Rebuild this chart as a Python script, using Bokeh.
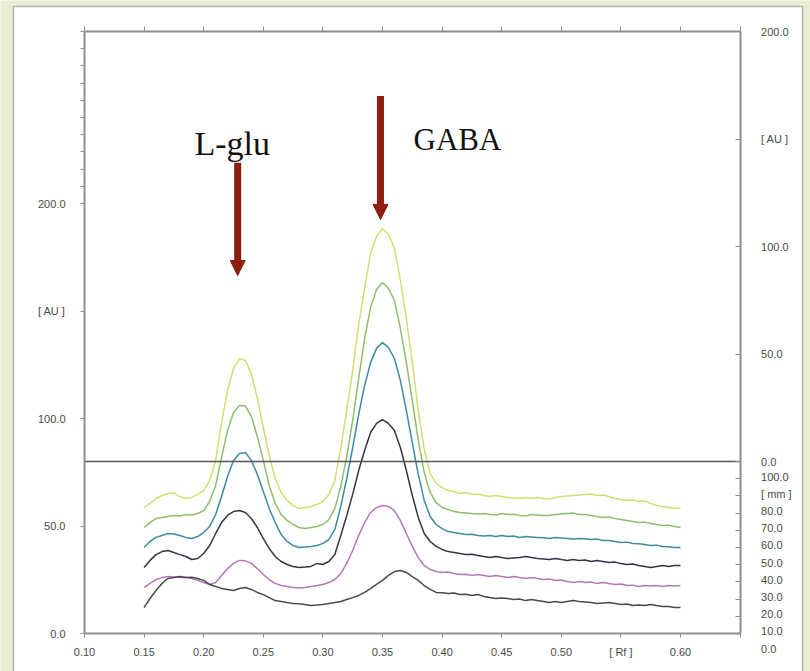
from bokeh.plotting import figure
from bokeh.models import (LinearAxis, FixedTicker, Range1d, Arrow, NormalHead,
                          Label, BoxAnnotation)
from bokeh.embed import file_html
from bokeh.resources import INLINE

# ---------------- data ----------------
rf = [round(0.150 + 0.005 * i, 3) for i in range(91)]

track_1 = [58.6, 60.5, 62.8, 64.2, 65.1, 65.3, 63.7, 62.8, 63.3, 64.7,
           66.5, 71.2, 80.5, 98.1, 113.0, 123.3, 127.9, 127.0, 120.9, 109.3,
           95.8, 82.8, 72.1, 65.6, 61.9, 59.5, 58.1, 58.6, 59.1, 60.0,
           61.4, 64.7, 71.2, 86.0, 103.7, 122.3, 143.3, 160.9, 176.7, 184.7,
           188.4, 185.6, 179.1, 164.2, 146.5, 126.0, 103.7, 85.6, 74.4, 69.8,
           67.9, 66.5, 66.0, 65.1, 65.6, 64.7, 64.9, 64.2, 63.7, 64.2,
           63.7, 63.3, 63.0, 62.8, 63.3, 62.8, 63.3, 62.8, 62.6, 63.3,
           63.7, 63.9, 64.2, 64.4, 64.7, 64.9, 64.2, 64.4, 63.7, 62.8,
           62.3, 61.9, 62.1, 61.4, 61.6, 60.5, 59.5, 59.1, 58.6, 58.1,
           58.3]
track_2 = [49.3, 51.6, 53.5, 54.0, 54.4, 54.9, 54.7, 55.3, 55.1, 55.8,
           57.2, 61.4, 68.8, 81.9, 94.4, 102.8, 106.0, 105.8, 100.9, 91.6,
           80.5, 68.8, 60.5, 55.3, 52.6, 50.7, 49.3, 48.8, 49.3, 49.8,
           50.7, 53.0, 58.1, 68.4, 82.3, 99.1, 118.6, 137.2, 151.6, 160.0,
           163.3, 160.5, 154.9, 141.9, 126.0, 108.4, 89.8, 74.9, 65.6, 60.9,
           58.6, 57.7, 56.7, 56.3, 56.1, 55.8, 55.6, 55.8, 55.3, 55.1,
           55.8, 55.3, 55.5, 54.9, 54.7, 55.3, 55.1, 54.9, 54.9, 55.3,
           55.6, 55.8, 56.0, 55.3, 55.3, 54.9, 54.4, 54.0, 54.2, 53.5,
           53.0, 52.6, 52.1, 51.6, 51.8, 51.2, 50.7, 50.2, 50.4, 49.8,
           49.3]
track_3 = [40.0, 42.8, 44.7, 45.6, 46.5, 46.3, 45.6, 44.7, 44.2, 45.1,
           47.0, 49.8, 55.3, 63.7, 73.0, 80.5, 83.7, 84.2, 80.5, 74.0,
           66.0, 58.1, 51.6, 46.0, 42.8, 40.9, 40.0, 40.2, 40.5, 40.9,
           41.9, 43.7, 48.4, 59.1, 72.1, 86.5, 101.9, 115.3, 126.0, 132.6,
           135.3, 133.0, 127.9, 117.7, 103.7, 88.8, 74.0, 61.9, 54.4, 50.7,
           48.8, 47.4, 47.0, 46.5, 46.0, 46.2, 45.6, 45.4, 45.6, 45.1,
           45.6, 45.1, 45.3, 44.7, 45.1, 44.9, 44.7, 44.5, 44.2, 44.7,
           44.4, 44.2, 44.0, 44.2, 44.1, 43.7, 43.9, 43.3, 43.3, 42.8,
           42.3, 42.5, 41.9, 41.7, 41.4, 40.9, 41.1, 40.5, 40.3, 40.0,
           40.0]
track_4 = [30.7, 34.0, 36.7, 38.1, 38.6, 37.7, 36.7, 35.8, 34.4, 34.9,
           37.2, 40.9, 46.5, 51.6, 54.9, 56.7, 57.2, 56.3, 53.5, 49.3,
           44.2, 39.5, 35.8, 33.5, 32.1, 31.2, 30.7, 30.9, 31.2, 32.6,
           32.1, 33.5, 36.7, 45.6, 54.9, 64.7, 75.8, 85.1, 93.5, 97.7,
           99.5, 97.7, 94.4, 86.5, 75.8, 64.2, 54.0, 46.5, 42.8, 40.5,
           39.1, 38.1, 37.7, 37.2, 36.7, 36.9, 36.3, 35.8, 35.3, 35.8,
           35.3, 34.9, 35.1, 35.3, 35.8, 35.3, 34.9, 34.7, 34.4, 34.9,
           34.4, 34.0, 34.4, 34.0, 34.2, 33.5, 34.0, 33.5, 33.0, 33.2,
           32.6, 32.1, 32.3, 31.6, 31.2, 30.7, 31.2, 31.6, 31.2, 31.6,
           31.6]
track_5 = [21.4, 23.3, 25.1, 26.0, 26.5, 26.3, 26.0, 26.2, 25.6, 24.7,
           23.7, 22.8, 23.7, 27.0, 30.2, 32.6, 34.0, 33.8, 32.6, 30.2,
           27.4, 25.1, 23.3, 22.3, 21.9, 21.4, 21.2, 21.4, 21.9, 22.3,
           22.8, 23.7, 25.1, 27.9, 32.6, 38.6, 45.6, 51.6, 56.3, 58.6,
           59.5, 59.1, 57.2, 52.6, 46.5, 40.5, 35.3, 31.6, 29.8, 28.8,
           28.4, 28.6, 27.9, 27.4, 27.6, 27.0, 27.4, 27.0, 26.5, 27.0,
           26.5, 26.0, 26.5, 26.0, 25.6, 26.0, 25.6, 25.1, 25.3, 24.7,
           24.9, 24.2, 23.7, 24.2, 23.7, 23.9, 23.3, 23.7, 23.3, 22.8,
           23.0, 22.3, 22.5, 21.9, 22.3, 22.1, 22.3, 21.9, 22.3, 22.1,
           22.3]
track_6 = [12.1, 16.3, 20.0, 23.3, 25.6, 26.0, 26.5, 26.0, 26.2, 25.6,
           24.7, 22.8, 21.9, 20.9, 20.5, 20.0, 20.9, 21.4, 20.5, 19.1,
           18.1, 16.7, 15.3, 14.9, 14.4, 14.0, 13.8, 13.5, 13.0, 13.2,
           13.5, 14.0, 14.4, 14.9, 15.8, 16.7, 17.7, 19.1, 20.9, 22.8,
           24.7, 27.0, 28.8, 29.3, 28.4, 26.5, 24.7, 22.3, 20.5, 19.1,
           18.9, 18.6, 18.8, 18.1, 18.3, 17.7, 18.1, 17.2, 16.7, 16.3,
           16.5, 16.3, 15.8, 16.0, 15.3, 15.8, 15.3, 14.9, 14.4, 14.9,
           14.4, 14.9, 15.3, 14.9, 14.7, 14.4, 14.0, 14.2, 14.4, 14.0,
           13.5, 13.7, 13.0, 13.2, 13.0, 13.5, 13.0, 12.6, 12.6, 12.1,
           12.1]
tracks = [track_1, track_2, track_3, track_4, track_5, track_6]
track_colors = ["#d2de72", "#8fbe6c", "#3f8c9c", "#3b3342", "#b577b9", "#4a4a4a"]

x_ticks = [0.1, 0.15, 0.2, 0.25, 0.3, 0.35, 0.4, 0.45, 0.5, 0.55, 0.6, 0.65]
x_tick_labels = ["0.10", "0.15", "0.20", "0.25", "0.30", "0.35", "0.40",
                 "0.45", "0.50", "[ Rf ]", "0.60", ""]

left_ticks = [0.0, 50.0, 100.0, 150.0, 200.0]
left_tick_labels = ["0.0", "50.0", "100.0", "[ AU ]", "200.0"]
left_minor_ticks = [208.0, 216.0, 224.0, 232.0, 240.0, 248.0, 256.0, 264.0, 272.0, 280.0]
left_top = 280.0

# right-hand scales: AU (upper part) and mm (lower part)
right_au_ticks = [0.0, 50.0, 100.0, 150.0, 200.0]
right_au_labels = ["0.0", "50.0", "100.0", "[ AU ]", "200.0"]
right_mm_ticks = [0.0, 10.0, 20.0, 30.0, 40.0, 50.0, 60.0, 70.0, 80.0, 90.0, 100.0]
right_mm_labels = ["0.0", "10.0", "20.0", "30.0", "40.0", "50.0", "60.0",
                   "70.0", "80.0", "[ mm ]", "100.0"]
right_au_zero = 80.0      # left-scale position of right AU 0 (= 100 mm)
mm_to_left = 0.8          # left-scale units per mm
mm_label_shift = -7.0     # mm labels sit a little below their ticks

peak_names = ["L-glu", "GABA"]

# ---------------- layout ----------------
W, H = 810, 671
AX_LEFT_PX, AX_BOTTOM_PX = 84, 633
XPX, YPX = 1192.0, 2.15          # pixels per Rf unit / per AU unit
x_lo, x_hi = x_ticks[0], x_ticks[-1]

AXIS_GRAY = "#8e8e8e"
TXT = "#4a4a4a"
FONT = "Liberation Sans"

p = figure(width=W, height=H, output_backend="svg", toolbar_location=None,
           x_range=Range1d(x_lo - AX_LEFT_PX / XPX, x_lo + (W - AX_LEFT_PX) / XPX),
           y_range=Range1d(-(H - AX_BOTTOM_PX) / YPX, AX_BOTTOM_PX / YPX),
           x_axis_type=None, y_axis_type=None, min_border=0)
p.grid.visible = False
p.outline_line_color = None
p.background_fill_color = "#e9eed2"
p.border_fill_color = "#e9eed2"

# slide panel: white with a thin black border
p.add_layout(BoxAnnotation(left=13, right=802, top=6, bottom=720,
                           left_units="canvas", right_units="canvas",
                           top_units="canvas", bottom_units="canvas",
                           fill_color="white", fill_alpha=1,
                           line_color="#1a1a1a", line_width=1.5, level="underlay"))


def style_axis(ax):
    ax.axis_line_color = AXIS_GRAY
    ax.axis_line_width = 2
    ax.major_tick_line_color = AXIS_GRAY
    ax.minor_tick_line_color = AXIS_GRAY
    ax.major_label_text_font = FONT
    ax.major_label_text_font_size = "11px"
    ax.major_label_text_color = TXT


xb = LinearAxis(ticker=FixedTicker(ticks=x_ticks), fixed_location=0.0, bounds=(x_lo, x_hi),
                major_label_overrides=dict(zip(x_ticks, x_tick_labels)))
style_axis(xb)
xb.major_tick_in = 0
xb.major_tick_out = 4
xb.major_label_standoff = 8
p.add_layout(xb, "below")

xt = LinearAxis(ticker=FixedTicker(ticks=x_ticks), fixed_location=left_top, bounds=(x_lo, x_hi))
style_axis(xt)
xt.major_tick_in = 0
xt.major_tick_out = 5
xt.major_label_text_color = None
p.add_layout(xt, "above")

yl = LinearAxis(ticker=FixedTicker(ticks=left_ticks, minor_ticks=left_minor_ticks),
                fixed_location=x_lo, bounds=(0.0, left_top),
                major_label_overrides=dict(zip(left_ticks, left_tick_labels)))
style_axis(yl)
yl.major_tick_in = 0
yl.major_tick_out = 4
yl.minor_tick_in = 0
yl.minor_tick_out = 4
yl.major_label_standoff = 15
p.add_layout(yl, "left")

# right axis: line + inward ticks
right_tick_pos = [mm_to_left * m for m in right_mm_ticks] + [right_au_zero + v for v in right_au_ticks]
yr = LinearAxis(ticker=FixedTicker(ticks=right_tick_pos), fixed_location=x_hi, bounds=(0.0, left_top))
style_axis(yr)
yr.major_tick_in = 5
yr.major_tick_out = 0
yr.major_label_text_color = None
p.add_layout(yr, "right")

# right axis labels (placed as on the original print-out)
right_label_pos = ([right_au_zero + v for v in right_au_ticks] +
                   [mm_to_left * m + mm_label_shift for m in right_mm_ticks])
right_label_txt = right_au_labels + right_mm_labels
yr_lab = LinearAxis(ticker=FixedTicker(ticks=right_label_pos), fixed_location=x_hi,
                    major_label_overrides=dict(zip(right_label_pos, right_label_txt)))
style_axis(yr_lab)
yr_lab.axis_line_color = None
yr_lab.major_tick_line_color = None
yr_lab.major_tick_in = 0
yr_lab.major_tick_out = 0
yr_lab.major_label_standoff = 21
p.add_layout(yr_lab, "right")

# traces
for tr, col in zip(tracks, track_colors):
    p.line(rf, tr, line_color=col, line_width=1.5)

# separator between right AU scale and mm scale
p.segment(x0=[x_lo], y0=[right_au_zero], x1=[x_hi], y1=[right_au_zero],
          line_color="#555555", line_width=1.3)

# arrows and peak names
ARROW_COL = "#8b1e0f"
p.add_layout(Arrow(x_start=0.2285, y_start=219, x_end=0.2285, y_end=166.5,
                   line_color=ARROW_COL, line_width=7,
                   end=NormalHead(size=15, fill_color=ARROW_COL, line_color=ARROW_COL, line_width=1)))
p.add_layout(Arrow(x_start=0.3483, y_start=250, x_end=0.3483, y_end=192.6,
                   line_color=ARROW_COL, line_width=7,
                   end=NormalHead(size=15, fill_color=ARROW_COL, line_color=ARROW_COL, line_width=1)))
p.add_layout(Label(x=0.1923, y=227.9, text=peak_names[0], text_font="Liberation Serif",
                   text_font_size="34px", text_color="#111111", text_baseline="alphabetic"))
p.add_layout(Label(x=0.376, y=229.8, text=peak_names[1], text_font="Liberation Serif",
                   text_font_size="31px", text_color="#111111", text_baseline="alphabetic"))

open("out.html", "w").write(file_html(p, INLINE))
